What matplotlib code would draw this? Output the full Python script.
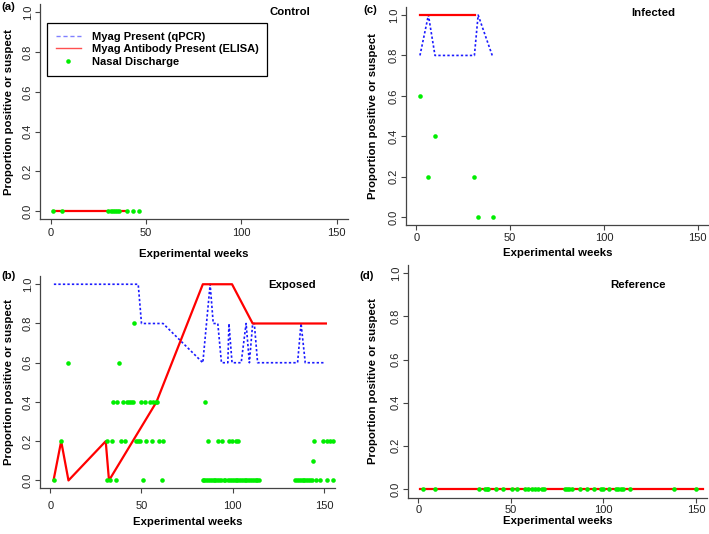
import numpy as np
import matplotlib
matplotlib.use("Agg")
import matplotlib.pyplot as plt
from matplotlib.lines import Line2D

plt.rcParams['font.family'] = ['Liberation Sans', 'DejaVu Sans']
plt.rcParams['font.size'] = 8

# ---- data ----
# (a) Control
ctrl_elisa_x = [1.4, 39]
ctrl_elisa_y = [0, 0]
ctrl_nasal_x = [1.4, 5.8, 30.2, 31.5, 32.5, 33.7, 34.9, 36, 40.2, 43.3, 46.3]
ctrl_nasal_y = [0] * len(ctrl_nasal_x)

# (c) Infected
inf_pcr_x = [2, 6.5, 10, 31, 33, 40.5]
inf_pcr_y = [0.8, 1.0, 0.8, 0.8, 1.0, 0.8]
inf_elisa_x = [2, 31.3]
inf_elisa_y = [1, 1]
inf_nasal_x = [2, 6.2, 10, 31, 33, 41]
inf_nasal_y = [0.6, 0.2, 0.4, 0.2, 0, 0]

# (b) Exposed
exp_pcr_x = [2, 48.2, 50, 61.8, 83.6, 87.6, 89.3, 91.8, 93.8, 97.3, 97.9, 99.6,
             104.6, 107.3, 109.1, 110.9, 111.8, 113.6, 135.5, 137.4, 139.7, 150]
exp_pcr_y = [1, 1, 0.8, 0.8, 0.6, 1.0, 0.8, 0.8, 0.6, 0.6, 0.8, 0.6,
             0.6, 0.8, 0.6, 0.8, 0.8, 0.6, 0.6, 0.8, 0.6, 0.6]
exp_elisa_x = [1.8, 6, 10, 30.4, 32.2, 58.2, 83.6, 99.6, 110.9, 151]
exp_elisa_y = [0, 0.2, 0, 0.2, 0, 0.4, 1, 1, 0.8, 0.8]
exp_nasal_08 = [45.8]
exp_nasal_06 = [10, 37.8]
exp_nasal_04 = [34.5, 36.5, 40, 41.8, 43.1, 44.2, 45.1, 49.6, 51.8, 54.6, 56.4,
                57.8, 58.7, 84.7]
exp_nasal_02 = [6, 30.9, 33.6, 38.7, 40.9, 46.9, 48.2, 49.1, 52.7, 55.5, 59.6,
                61.8, 86.7, 91.8, 94, 97.8, 99.7, 101.5, 103.1, 144.6, 149.6,
                151.5, 153.3, 155.1]
exp_nasal_01 = [143.7]
exp_nasal_00 = [2, 31.3, 32.7, 36, 50.9, 61, 83.5, 84.5, 85.5, 86.5, 87.5, 88.5,
                89.5, 90.5, 91.5, 92.5, 93.5, 95, 96, 97.5, 98.5, 99.5, 100.5,
                101.5, 102.5, 103.5, 104.5, 105.5, 106.5, 107.5, 108.5, 109.5,
                110.5, 111.5, 112.5, 113.5, 114.5, 134.2, 135.2, 136.2, 137.2,
                138.2, 139.2, 140.2, 141.2, 142.4, 143.6, 145.5, 147.8, 151.8,
                154.9]

# (d) Reference
ref_elisa_x = [1, 154]
ref_elisa_y = [0, 0]
ref_nasal_x = [2.3, 9, 33, 36, 36.9, 37.8, 41.8, 45.6, 50.4, 53.5, 57.6, 59.4,
               61.2, 63, 64.8, 66.6, 67.9, 79.3, 80.5, 81.6, 82.9, 87.4, 91,
               94.9, 98.5, 99.9, 103.2, 106.6, 108, 109.3, 110.7, 114.4, 138.1, 150]
ref_nasal_y = [0] * len(ref_nasal_x)

x_ticks = [0, 50, 100, 150]
y_ticks = [0.0, 0.2, 0.4, 0.6, 0.8, 1.0]

W, H = 709, 534
RED = "#ff0000"
BLUE = "#1a1aff"
GREEN = "#00ee00"
AXC = "#444444"


def px_rect(l, r, t, b):
    return [l / W, (H - b) / H, (r - l) / W, (b - t) / H]


def setup(ax, title, tpos, xl_y, yl_x, xpad):
    ax.set_xlim(-5.6, 156)
    ax.set_ylim(-0.04, 1.04)
    for s in ['top', 'right']:
        ax.spines[s].set_visible(False)
    for s in ['left', 'bottom']:
        ax.spines[s].set_color(AXC)
        ax.spines[s].set_linewidth(0.9)
    ax.set_xticks(x_ticks)
    ax.set_yticks(y_ticks)
    ax.set_yticklabels([f"{v:.1f}" for v in y_ticks])
    ax.tick_params(direction='out', length=3.6, width=0.8, color=AXC,
                   labelcolor="#222222", labelsize=8)
    ax.tick_params(axis='y', labelrotation=90, pad=1.5)
    ax.tick_params(axis='x', pad=xpad)
    for lab in ax.get_yticklabels():
        lab.set_va('center')
    ax.set_xlabel("Experimental weeks", fontweight='bold', fontsize=8.2)
    ax.set_ylabel("Proportion positive or suspect", fontweight='bold', fontsize=8.2)
    ax.xaxis.set_label_coords(0.5, xl_y)
    ax.xaxis.label.set_va('center')
    ax.yaxis.set_label_coords(yl_x, 0.5)
    ax.yaxis.label.set_va('center')
    ax.text(tpos[0], tpos[1], title, transform=ax.transAxes, ha='center',
            va='center', fontweight='bold', fontsize=8.2)


fig = plt.figure(figsize=(W / 100, H / 100), dpi=100)

rects = {
    'a': (40, 348, 4.4, 219),
    'c': (405.7, 709, 7, 225),
    'b': (40, 335, 276.4, 488.3),
    'd': (408, 707, 264.7, 497.5),
}
xlab_px = {'a': 254, 'c': 253, 'b': 521.7, 'd': 521}
ylab_px = {'a': 9, 'c': 373, 'b': 9.5, 'd': 373.3}
xpads = {'a': 3, 'c': 2.5, 'b': 5.5, 'd': 1.5}
titles = {'a': ("Control", (0.812, 0.966)), 'c': ("Infected", (0.816, 0.974)),
          'b': ("Exposed", (0.854, 0.959)), 'd': ("Reference", (0.768, 0.913))}

axes = {}
for k, rc in rects.items():
    l, r, t, b = rc
    ax = fig.add_axes(px_rect(*rc))
    xl_y = -(xlab_px[k] - b) / (b - t)
    yl_x = (ylab_px[k] - l) / (r - l)
    setup(ax, titles[k][0], titles[k][1], xl_y, yl_x, xpads[k])
    axes[k] = ax

ls_dot = (0, (1.4, 1.3))
ms = 3.3

# (a)
ax = axes['a']
ax.plot(ctrl_elisa_x, ctrl_elisa_y, color=RED, lw=1.6)
ax.plot(ctrl_nasal_x, ctrl_nasal_y, 'o', color=GREEN, ms=ms, mec='none')
handles = [
    Line2D([], [], color="#8080ff", lw=1.0, ls=(0, (3, 2))),
    Line2D([], [], color="#ff5050", lw=1.0),
    Line2D([], [], color=GREEN, marker='o', ls='none', ms=ms, mec='none'),
]
labels = ["Myag Present (qPCR)", "Myag Antibody Present (ELISA)", "Nasal Discharge"]
leg = ax.legend(handles, labels, loc='upper left', bbox_to_anchor=(0.0218, 0.915),
                borderaxespad=0, fancybox=False, edgecolor='black', framealpha=1,
                handlelength=2.25, handletextpad=1.0, labelspacing=0.25,
                borderpad=0.8, prop={'weight': 'bold', 'size': 8})
leg.get_frame().set_linewidth(0.9)

# (c)
ax = axes['c']
ax.plot(inf_pcr_x, inf_pcr_y, color=BLUE, lw=1.2, ls=ls_dot)
ax.plot(inf_elisa_x, inf_elisa_y, color=RED, lw=1.6)
ax.plot(inf_nasal_x, inf_nasal_y, 'o', color=GREEN, ms=ms, mec='none')

# (b)
ax = axes['b']
ax.plot(exp_pcr_x, exp_pcr_y, color=BLUE, lw=1.2, ls=ls_dot)
ax.plot(exp_elisa_x, exp_elisa_y, color=RED, lw=1.6)
for lvl, xs in [(0.8, exp_nasal_08), (0.6, exp_nasal_06), (0.4, exp_nasal_04),
                (0.2, exp_nasal_02), (0.1, exp_nasal_01), (0.0, exp_nasal_00)]:
    ax.plot(xs, [lvl] * len(xs), 'o', color=GREEN, ms=ms, mec='none')

# (d)
ax = axes['d']
ax.plot(ref_elisa_x, ref_elisa_y, color=RED, lw=1.6)
ax.plot(ref_nasal_x, ref_nasal_y, 'o', color=GREEN, ms=ms, mec='none')

# panel letters
for lab, (x, y) in {"(a)": (8.3, 6.7), "(c)": (370, 10), "(b)": (8.3, 276),
                    "(d)": (366.7, 276)}.items():
    fig.text(x / W, 1 - y / H, lab, ha='center', va='center',
             fontweight='bold', fontsize=8.2)

fig.savefig("out.png", dpi=100)
